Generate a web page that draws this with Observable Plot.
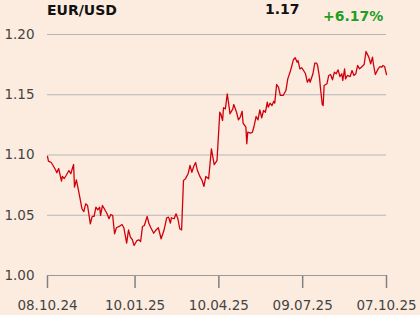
<!DOCTYPE html>
<html><head><meta charset="utf-8">
<script src="https://cdn.jsdelivr.net/npm/d3@7"></script>
<script src="https://cdn.jsdelivr.net/npm/@observablehq/plot@0.6"></script>
<style>
body{margin:0;background:#fcece0;font-family:"DejaVu Sans",sans-serif;}
#wrap{position:relative;width:420px;height:315px;overflow:hidden;background:#fcece0}
.t{position:absolute;font-weight:bold;font-size:14px;line-height:1;white-space:nowrap;color:#111}
#chart svg{display:block}
</style></head><body>
<div id="wrap">
<div id="chart"></div>
<div class="t" id="title" style="left:47px;top:3px"></div>
<div class="t" id="last" style="left:265px;top:2px"></div>
<div class="t" id="chg" style="left:323px;top:9px;color:#1f9e1f"></div>
</div>
<script>
const titleText = "EUR/USD";
const lastText = "1.17";
const changeText = "+6.17%";

const dates = [
"2024-10-08","2024-10-09","2024-10-12","2024-10-14","2024-10-17","2024-10-18","2024-10-20","2024-10-23","2024-10-24","2024-10-26",
"2024-10-28","2024-10-31","2024-11-02","2024-11-05","2024-11-06","2024-11-08","2024-11-11","2024-11-14","2024-11-16","2024-11-18",
"2024-11-20","2024-11-23","2024-11-25","2024-11-27","2024-11-29","2024-12-01","2024-12-03","2024-12-04","2024-12-06","2024-12-08",
"2024-12-11","2024-12-13","2024-12-15","2024-12-17","2024-12-19","2024-12-21","2024-12-24","2024-12-27","2024-12-29","2025-01-01",
"2025-01-03","2025-01-05","2025-01-07","2025-01-09","2025-01-12","2025-01-14","2025-01-16","2025-01-18","2025-01-20","2025-01-23",
"2025-01-25","2025-01-27","2025-01-30","2025-02-01","2025-02-04","2025-02-07","2025-02-10","2025-02-13","2025-02-15","2025-02-17",
"2025-02-18","2025-02-21","2025-02-23","2025-02-25","2025-02-27","2025-03-01","2025-03-03","2025-03-05","2025-03-08","2025-03-10",
"2025-03-12","2025-03-14","2025-03-16","2025-03-18","2025-03-21","2025-03-23","2025-03-25","2025-03-27","2025-03-30","2025-04-02",
"2025-04-05","2025-04-08","2025-04-11","2025-04-12","2025-04-14","2025-04-15","2025-04-17","2025-04-19","2025-04-21","2025-04-22",
"2025-04-25","2025-04-26","2025-04-29","2025-05-01","2025-05-03","2025-05-05","2025-05-06","2025-05-09","2025-05-10","2025-05-11",
"2025-05-14","2025-05-16","2025-05-18","2025-05-20","2025-05-22","2025-05-24","2025-05-26","2025-05-28","2025-05-30","2025-06-01",
"2025-06-02","2025-06-04","2025-06-06","2025-06-08","2025-06-09","2025-06-11","2025-06-13","2025-06-15","2025-06-18","2025-06-21",
"2025-06-23","2025-06-26","2025-06-29","2025-07-01","2025-07-03","2025-07-04","2025-07-06","2025-07-08","2025-07-10","2025-07-12",
"2025-07-14","2025-07-16","2025-07-17","2025-07-20","2025-07-22","2025-07-24","2025-07-25","2025-07-27","2025-07-28","2025-07-30",
"2025-07-31","2025-08-01","2025-08-04","2025-08-06","2025-08-08","2025-08-10","2025-08-12","2025-08-14","2025-08-16","2025-08-18",
"2025-08-20","2025-08-21","2025-08-23","2025-08-24","2025-08-26","2025-08-29","2025-08-31","2025-09-02","2025-09-04","2025-09-06",
"2025-09-08","2025-09-10","2025-09-13","2025-09-15","2025-09-18","2025-09-20","2025-09-22","2025-09-23","2025-09-25","2025-09-28",
"2025-09-30","2025-10-02","2025-10-03","2025-10-05","2025-10-07"];

const values = [
1.0988,1.0949,1.0938,1.0913,1.0871,1.0852,1.0888,1.0783,1.0822,1.0805,
1.0830,1.0871,1.0844,1.0921,1.0733,1.0794,1.0678,1.0554,1.0531,1.0595,
1.0581,1.0429,1.0490,1.0490,1.0567,1.0545,1.0567,1.0498,1.0581,1.0554,
1.0512,1.0471,1.0506,1.0498,1.0346,1.0396,1.0407,1.0423,1.0396,1.0268,
1.0379,1.0318,1.0299,1.0249,1.0290,1.0296,1.0282,1.0407,1.0415,1.0490,
1.0429,1.0396,1.0351,1.0373,1.0396,1.0305,1.0373,1.0479,1.0484,1.0434,
1.0479,1.0471,1.0512,1.0471,1.0388,1.0379,1.0788,1.0802,1.0844,1.0913,
1.0857,1.0905,1.0938,1.0871,1.0816,1.0788,1.0739,1.0822,1.0802,1.1051,
1.0921,1.0954,1.1355,1.1342,1.1286,1.1392,1.1383,1.1508,1.1397,1.1342,
1.1383,1.1419,1.1355,1.1292,1.1314,1.1363,1.1264,1.1231,1.1093,1.1189,
1.1181,1.1189,1.1245,1.1320,1.1292,1.1375,1.1309,1.1369,1.1355,1.1438,
1.1397,1.1430,1.1411,1.1446,1.1430,1.1585,1.1563,1.1494,1.1494,1.1535,
1.1632,1.1701,1.1790,1.1807,1.1770,1.1784,1.1715,1.1724,1.1701,1.1674,
1.1604,1.1632,1.1604,1.1674,1.1762,1.1762,1.1743,1.1646,1.1563,1.1419,
1.1411,1.1577,1.1591,1.1660,1.1668,1.1624,1.1687,1.1674,1.1707,1.1651,
1.1674,1.1618,1.1715,1.1632,1.1660,1.1651,1.1701,1.1660,1.1674,1.1743,
1.1715,1.1729,1.1751,1.1859,1.1812,1.1757,1.1812,1.1751,1.1668,1.1715,
1.1734,1.1729,1.1743,1.1734,1.1668];

const yTicks = [1.00, 1.05, 1.10, 1.15, 1.20];
const xTicks = ["2024-10-08","2025-01-10","2025-04-10","2025-07-09","2025-10-07"];

document.getElementById("title").textContent = titleText;
document.getElementById("last").textContent = lastText;
document.getElementById("chg").textContent = changeText;

const data = dates.map((d, i) => ({date: new Date(d), value: values[i]}));
const xTickDates = xTicks.map(d => new Date(d));
const fmt = d3.utcFormat("%d.%m.%y");

const W = 420, H = 315, MT = 34, MB = 40, ML = 47, MR = 34, TICK = 13;

const chart = Plot.plot({
  width: W,
  height: H,
  marginTop: MT,
  marginBottom: MB,
  marginLeft: ML,
  marginRight: MR,
  style: {background: "transparent", fontFamily: "DejaVu Sans, sans-serif", fontSize: "13.5px", color: "#444"},
  x: {type: "utc", domain: [xTickDates[0], xTickDates[xTickDates.length - 1]]},
  y: {domain: [1.0, 1.2]},
  marks: [
    Plot.ruleY(yTicks.slice(1), {stroke: "#b5b5b5", strokeWidth: 1}),
    Plot.axisY(yTicks, {tickSize: 0, tickPadding: 13, tickFormat: d => d.toFixed(2), label: null, fill: "#444"}),
    Plot.axisX(xTickDates, {tickSize: 0, tickPadding: TICK + 12, tickFormat: fmt, label: null, fill: "#444"}),
    Plot.ruleX(xTickDates, {insetTop: H - MT - MB, insetBottom: -TICK, stroke: "#808080", strokeWidth: 1.5}),
    Plot.ruleY([1.0], {stroke: "#999", strokeWidth: 1}),
    Plot.lineY(data, {x: "date", y: "value", stroke: "#d0000b", strokeWidth: 1.3})
  ]
});
document.getElementById("chart").appendChild(chart);
</script>
</body></html>
